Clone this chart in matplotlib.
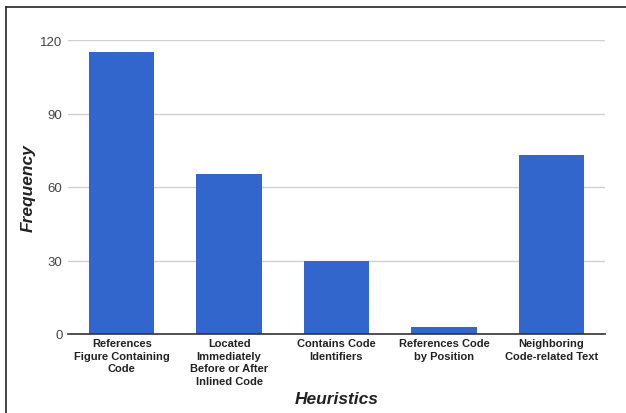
import matplotlib
matplotlib.use("Agg")
import matplotlib.pyplot as plt
from matplotlib.lines import Line2D

categories = [
    "References\nFigure Containing\nCode",
    "Located\nImmediately\nBefore or After\nInlined Code",
    "Contains Code\nIdentifiers",
    "References Code\nby Position",
    "Neighboring\nCode-related Text",
]
values = [115, 65.5, 30, 3, 73]
yticks = [0, 30, 60, 90, 120]

plt.rcParams['font.family'] = ['Liberation Sans', 'DejaVu Sans']

W, H = 626, 414
fig = plt.figure(figsize=(W / 100, H / 100), dpi=100)
ax = fig.add_axes([68 / W, (H - 335) / H, (605 - 68) / W, (335 - 41) / H])

x = list(range(len(categories)))
ax.bar(x, values, width=0.61, color="#3366cc", zorder=3)
ax.set_xlim(-0.5, len(categories) - 0.5)
ax.set_ylim(0, 120)
ax.set_yticks(yticks)
ax.set_yticklabels([str(t) for t in yticks], fontsize=9.5, color="#444444")
ax.set_xticks(x)
ax.set_xticklabels(categories, fontsize=8, fontweight="bold", color="#222222",
                   linespacing=1.32, va="top")
ax.tick_params(axis="both", length=0)
ax.tick_params(axis="y", pad=4)
ax.tick_params(axis="x", pad=3)
ax.grid(axis="y", color="#d0d0d0", linewidth=1, zorder=0)
for s in ["top", "right", "left"]:
    ax.spines[s].set_visible(False)
ax.spines["bottom"].set_color("#333333")
ax.spines["bottom"].set_linewidth(1.2)
ax.spines["bottom"].set_zorder(4)

fig.text(28 / W, (H - 188) / H, "Frequency", rotation=90, fontsize=12.5,
         fontweight="bold", fontstyle="italic", color="#222222",
         ha="center", va="center")
fig.text(337 / W, (H - 400) / H, "Heuristics", fontsize=12.5,
         fontweight="bold", fontstyle="italic", color="#222222",
         ha="center", va="center")

# outer frame (top and left edges)
fig.add_artist(Line2D([5.5 / W, 1.0], [1 - 8 / H, 1 - 8 / H], color="#222222",
                      linewidth=1.2, transform=fig.transFigure))
fig.add_artist(Line2D([5.5 / W, 5.5 / W], [0, 1 - 8 / H], color="#222222",
                      linewidth=1.2, transform=fig.transFigure))

fig.savefig("out.png", dpi=100)
